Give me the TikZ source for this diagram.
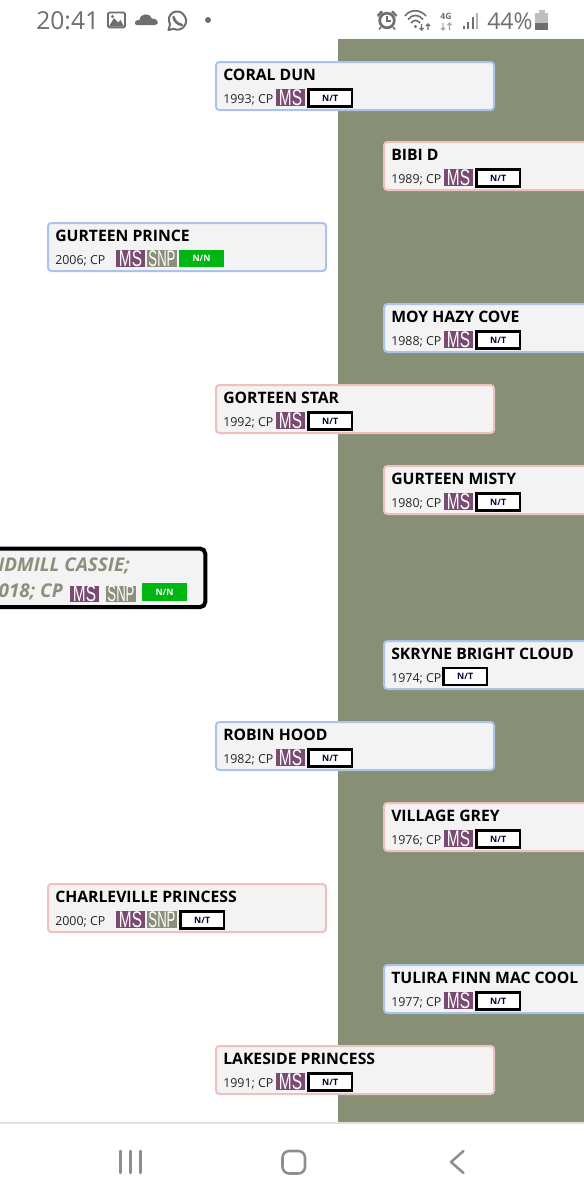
\documentclass[tikz,border=0pt]{standalone}
\usepackage{fontspec}
\usepackage{graphicx}
\setmainfont{Open Sans}
\newfontfamily\lib{Liberation Sans}
\definecolor{olivebg}{HTML}{878F74}
\definecolor{cardfill}{HTML}{F3F3F3}
\definecolor{blueb}{HTML}{A9C4EA}
\definecolor{pinkb}{HTML}{EFC0C0}
\definecolor{msc}{HTML}{7A4A72}
\definecolor{snpc}{HTML}{8B907B}
\definecolor{nng}{HTML}{00B612}
\definecolor{stat}{HTML}{6E6E6E}
\definecolor{nav}{HTML}{8E8E8E}
\tikzset{
  x=0.75pt,y=-0.75pt,
  cardbox/.style={draw=#1,line width=1.5pt,fill=cardfill,rounded corners=2.5pt,inner sep=0,outer sep=0,anchor=north west,minimum height=36pt},
  title/.style={anchor=base west,inner sep=0,font=\fontsize{11.8}{14}\selectfont\bfseries,text=black},
  yeartxt/.style={anchor=base west,inner sep=0,font=\fontsize{9.3}{12}\selectfont,text=black!85},
  badge/.style={inner sep=0,outer sep=0,anchor=north west,text=white,minimum height=#1},
  msbadge/.style={badge=12.75pt,fill=msc,minimum width=21.75pt},
  snpbadge/.style={badge=12.75pt,fill=snpc,minimum width=22.5pt},
  ntbadge/.style={draw=black,line width=1.9pt,fill=white,inner sep=0,outer sep=0,anchor=north west,minimum width=32.5pt,minimum height=12.75pt,text=black!80!blue,font=\fontsize{6.6}{7}\selectfont\bfseries},
  nnbadge/.style={badge=12.75pt,fill=nng,minimum width=33.75pt,font=\fontsize{6.6}{7}\selectfont\bfseries},
  navline/.style={draw=nav,line width=1.9pt,line cap=round,line join=round},
}
\newcommand{\mstxt}{\lib\fontsize{17}{15}\selectfont\scalebox{0.68}[1]{MS}}
\newcommand{\snptxt}{\lib\fontsize{17}{15}\selectfont\scalebox{0.58}[1]{SNP}}
% \card{id}{x}{y}{colour}{title}{year}
\newcommand{\card}[6]{%
  \node[cardbox=#4,minimum width=208.5pt] (#1) at (#2,#3) {};
  \node[title] (#1t) at (#2+7,#3+18.5) {#5};
  \node[yeartxt] (#1y) at (#2+7,#3+41) {#6; CP};
}
% MS + N/T, close layout
\newcommand{\cardms}[6]{%
  \card{#1}{#2}{#3}{#4}{#5}{#6}
  \node[msbadge] (#1m) at (#2+60,#3+27) {\mstxt};
  \node[ntbadge] (#1n) at (#2+92.5,#3+27.5) {N/T};
}
\begin{document}
\begin{tikzpicture}
\useasboundingbox (0,0) rectangle (584,1200);
\clip (0,0) rectangle (584,1200);
\fill[white] (0,0) rectangle (584,1200);
\fill[olivebg] (338,39) rectangle (584,1122);
\fill[black!12] (0,1122) rectangle (584,1124);

\cardms{coral}{216}{62}{blueb}{CORAL DUN}{1993}
\cardms{bibi}{384}{142}{pinkb}{BIBI D}{1989}
\cardms{moy}{384}{304}{blueb}{MOY HAZY COVE}{1988}
\cardms{gorteen}{216}{385}{pinkb}{GORTEEN STAR}{1992}
\cardms{misty}{384}{466}{pinkb}{GURTEEN MISTY}{1980}
\cardms{robin}{216}{722}{blueb}{ROBIN HOOD}{1982}
\cardms{village}{384}{803}{pinkb}{VILLAGE GREY}{1976}
\cardms{tulira}{384}{965}{blueb}{TULIRA FINN MAC COOL}{1977}
\cardms{lakeside}{216}{1046}{pinkb}{LAKESIDE PRINCESS}{1991}

\card{skryne}{384}{641}{blueb}{SKRYNE BRIGHT CLOUD}{1974}
\node[ntbadge] (skrynen) at (443.5,668) {N/T};

\card{prince}{48}{223}{blueb}{GURTEEN PRINCE}{2006}
\node[msbadge] (princem) at (116,250) {\mstxt};
\node[snpbadge] (princes) at (147,250) {\snptxt};
\node[nnbadge] (princen) at (179,250) {N/N};

\card{charle}{48}{884}{pinkb}{CHARLEVILLE PRINCESS}{2000}
\node[msbadge] (charlem) at (116,911) {\mstxt};
\node[snpbadge] (charles) at (147,911) {\snptxt};
\node[ntbadge] (charlen) at (180.5,911.5) {N/T};

% subject card
\node[draw=black,line width=3pt,fill=cardfill,rounded corners=4pt,inner sep=0,outer sep=0,anchor=north west,minimum width=172pt,minimum height=44pt] (subject) at (-24,548.5) {};
\node[anchor=base east,inner sep=0,text=snpc,font=\fontsize{14.2}{16}\selectfont\bfseries\itshape] (subjecta) at (130,571) {WINDMILL CASSIE;};
\node[anchor=base east,inner sep=0,text=snpc,font=\fontsize{14.2}{16}\selectfont\bfseries\itshape] (subjectb) at (63,597) {2018; CP};
\node[msbadge,minimum height=11.25pt] (subjectm) at (70,586) {\mstxt};
\node[snpbadge,minimum height=11.25pt] (subjects) at (106,586) {\snptxt};
\node[nnbadge,minimum height=13.5pt] (subjectn) at (142,583) {N/N};

% status bar
\node[anchor=base west,inner sep=0,text=stat,font=\fontsize{18.5}{20}\selectfont] (clock) at (36,29.5) {20:41};
\node[anchor=base west,inner sep=0,text=stat,font=\fontsize{17.3}{20}\selectfont] (batt) at (487,29.5) {44\%};
\node[anchor=base,inner sep=0,text=stat,font=\fontsize{6.5}{7}\selectfont\bfseries] (fourg) at (446,19.5) {4G};
% image icon
\draw[stat,line width=1.4pt,rounded corners=1pt] (108,12.5) rectangle (125,27.5);
\fill[stat] (109,26.5) -- (114,18) -- (118,22.5) -- (120.5,20) -- (124,26.5) -- cycle;
\fill[stat] (112.5,16.5) circle (1.6);
% cloud
\fill[stat] (137,25) .. controls (133,25) and (135,19) .. (139.5,20) .. controls (140,13) and (150,12.5) .. (152,18.5) .. controls (158,18) and (160,25) .. (155,25) -- cycle;
% whatsapp
\draw[stat,line width=1.5pt,line join=round] (168.5,30) -- (170,24.5) .. controls (165,13) and (178,8) .. (183,14) .. controls (191,22) and (182,33) .. (173.5,28.8) -- cycle;
\draw[stat,line width=2pt,line cap=round] (173.5,17) .. controls (174.5,21) and (177,24) .. (182,25);
% dot
\fill[stat] (208,20) circle (3);
% alarm
\draw[stat,line width=2pt] (387,20.5) circle (7.3);
\draw[stat,line width=1.2pt] (387,16) -- (387,21) -- (391,21);
\fill[stat] (377,15) -- (381,10.5) -- (383,12) -- (378,17) -- cycle;
\fill[stat] (397,15) -- (393,10.5) -- (391,12) -- (396,17) -- cycle;
\draw[stat,line width=1.2pt] (381,27) -- (379,29.5) (393,27) -- (395,29.5);
% wifi
\draw[stat,line width=1.2pt] (405,16) .. controls (410,9) and (420,9) .. (426,16);
\draw[stat,line width=1.2pt] (408,19.5) .. controls (412,14) and (419,14) .. (423,19.5);
\draw[stat,line width=1.2pt] (411,23) .. controls (414,19.5) and (417,19.5) .. (420,23);
\fill[stat] (415.5,26.5) circle (1.6);
\draw[stat,line width=1pt] (421.5,24) -- (421.5,30) (419.5,28) -- (421.5,30) -- (423.5,28);
\draw[stat,line width=1pt] (428,30) -- (428,24) (426,26) -- (428,24) -- (430,26);
% 4G arrows
\draw[black!35,line width=.9pt] (443,23) -- (443,30) (441,28) -- (443,30) -- (445,28);
\draw[black!35,line width=.9pt] (449.5,30) -- (449.5,23) (447.5,25) -- (449.5,23) -- (451.5,25);
% signal
\fill[stat] (462.5,26) rectangle (464.5,29);
\fill[stat] (467,22) rectangle (469,29);
\fill[stat] (471.5,17) rectangle (473.5,29);
\fill[black!30] (476,13) rectangle (477.5,29);
% battery
\fill[black!25] (535,13) rectangle (548,30);
\fill[black!25] (538.5,10) rectangle (544.5,13);
\fill[stat] (535,23) rectangle (548,30);

% navigation bar
\draw[navline] (120.5,1151) -- (120.5,1173);
\draw[navline] (130.5,1151) -- (130.5,1173);
\draw[navline] (140.5,1151) -- (140.5,1173);
\draw[navline,rounded corners=5pt] (282.5,1151) rectangle (305,1173.5);
\draw[navline] (463.5,1151) -- (451,1162) -- (463.5,1173);
\end{tikzpicture}
\end{document}
